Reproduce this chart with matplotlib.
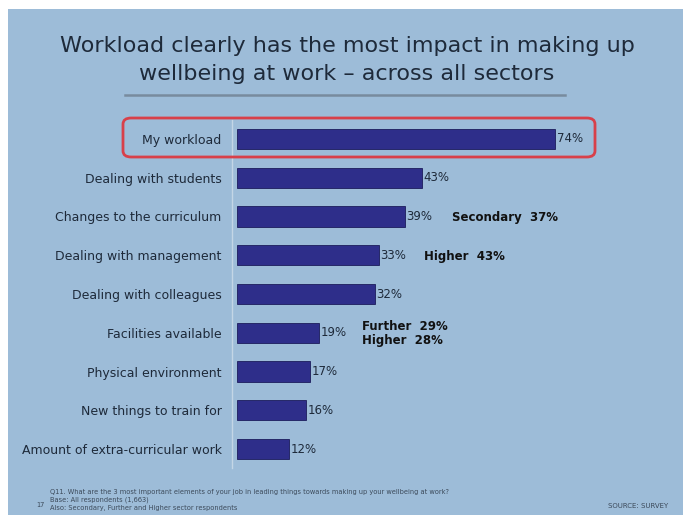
import matplotlib.pyplot as plt
from matplotlib.patches import Rectangle, FancyBboxPatch
from matplotlib.lines import Line2D

# Data
categories = ['My workload', 'Dealing with students', 'Changes to the curriculum',
              'Dealing with management', 'Dealing with colleagues', 'Facilities available',
              'Physical environment', 'New things to train for',
              'Amount of extra-curricular work']
values = [74, 43, 39, 33, 32, 19, 17, 16, 12]
note_rows = [2, 3, 5]
note_texts = ['Secondary  37%', 'Higher  43%', 'Further  29%\nHigher  28%']

bg = '#9dbcd8'
bar_color = '#2e2e8a'
text_color = '#1e2a3a'

W, H = 683, 515
fig = plt.figure(figsize=(W / 100, H / 100), dpi=100, facecolor='white')

# slide background (white strip at left/top)
fig.patches.append(Rectangle((8 / W, 0), 1 - 8 / W, 1 - 9 / H, transform=fig.transFigure,
                             facecolor=bg, edgecolor='none', zorder=-5))

# title
fig.text(347 / W, 1 - 46 / H, 'Workload clearly has the most impact in making up',
         ha='center', va='center', fontsize=16, color=text_color)
fig.text(347 / W, 1 - 74 / H, 'wellbeing at work \u2013 across all sectors',
         ha='center', va='center', fontsize=16, color=text_color)
fig.lines.append(Line2D([125 / W, 565 / W], [1 - 95 / H, 1 - 95 / H], transform=fig.transFigure,
                        color='#6f7f90', linewidth=1.8, alpha=0.8))

# bar axes
ax_left, ax_top, ax_bottom = 237, 119.6, 468.4
px_per_pct = 4.3
ax = fig.add_axes([ax_left / W, 1 - ax_bottom / H, 100 * px_per_pct / W, (ax_bottom - ax_top) / H])
ax.set_zorder(3)
ax.set_facecolor('none')
ypos = list(range(len(categories)))
ax.barh(ypos, values, height=0.52, color=bar_color, edgecolor='#1c1c5c', linewidth=0.6)
ax.set_xlim(0, 100)
ax.set_ylim(len(categories) - 0.5, -0.5)
for s in ax.spines.values():
    s.set_visible(False)
ax.axvline(-1.2, color='#c4d6e6', linewidth=1, clip_on=False)
ax.set_xticks([])
ax.set_yticks(ypos)
ax.set_yticklabels(categories, fontsize=9, color=text_color)
ax.tick_params(axis='y', length=0, pad=11)

for i, v in enumerate(values):
    ax.text(v + 0.4, i, f'{v}%', va='center', ha='left', fontsize=8.5, color=text_color)

note_x = [50, 43.5, 29]
for i, t, x in zip(note_rows, note_texts, note_x):
    ax.text(x, i + 0.03, t, va='center', ha='left', fontsize=8.5,
            fontweight='bold', color='#111111', linespacing=1.1)

# red highlight box around first row
fig.patches.append(FancyBboxPatch((123 / W, 1 - 157 / H), (595 - 123) / W, (157 - 118) / H,
                                  boxstyle='round,pad=0,rounding_size=0.012',
                                  transform=fig.transFigure, facecolor='none',
                                  edgecolor='#d8404a', linewidth=2, zorder=5))

# footer
foot = ('Q11. What are the 3 most important elements of your job in leading things towards making up your wellbeing at work?\n'
        'Base: All respondents (1,663)\n'
        'Also: Secondary, Further and Higher sector respondents')
fig.text(50 / W, 1 - 500 / H, foot, ha='left', va='center', fontsize=4.8, color='#3c4a5a',
         linespacing=1.35)
fig.text(36 / W, 1 - 505 / H, '17', ha='left', va='center', fontsize=4.8, color='#3c4a5a')
fig.text(668 / W, 1 - 506 / H, 'SOURCE: SURVEY', ha='right', va='center', fontsize=5,
         color='#3c4a5a')

fig.savefig('out.png', dpi=100, facecolor='white')
